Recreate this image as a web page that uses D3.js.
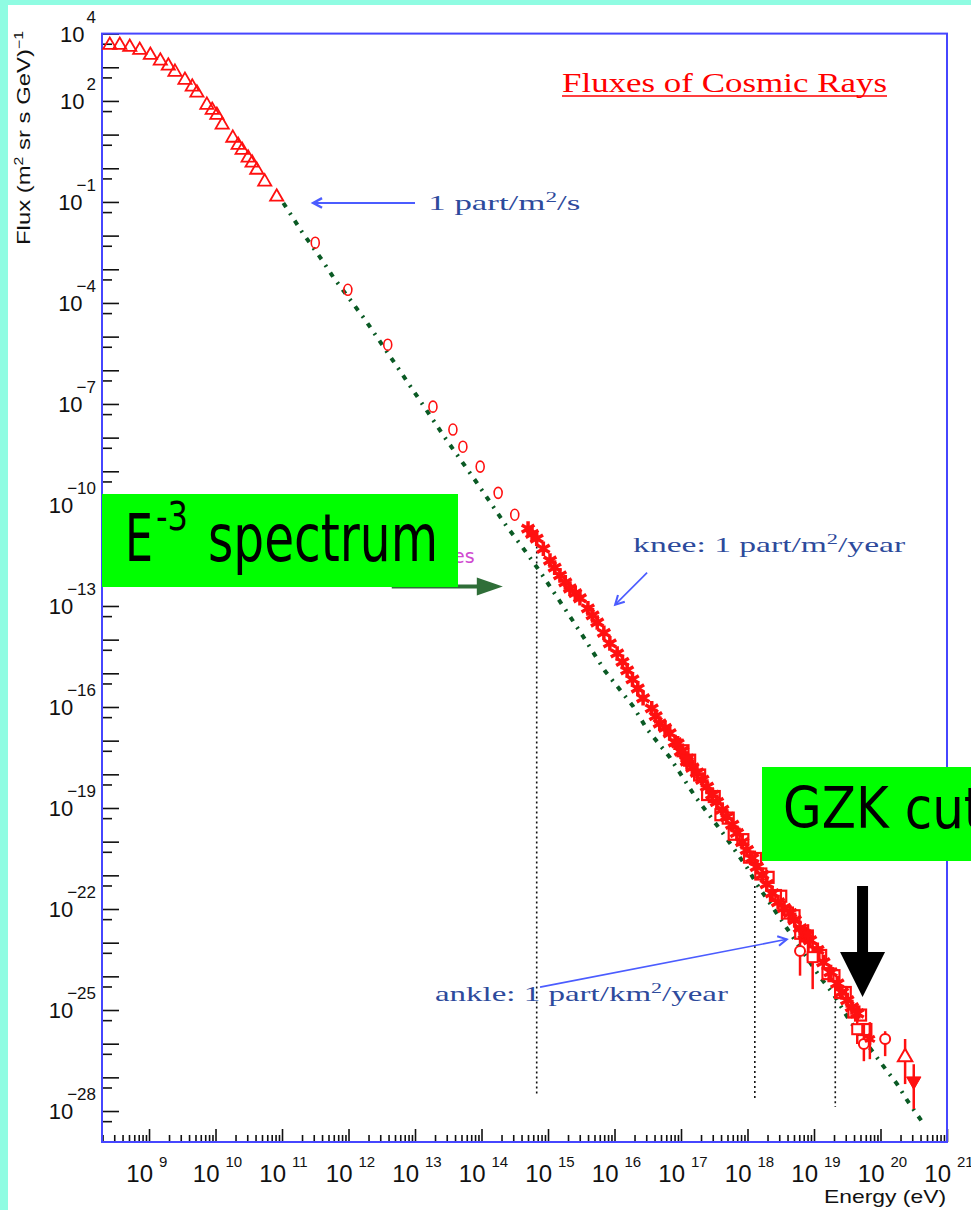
<!DOCTYPE html>
<html><head><meta charset="utf-8">
<script src="https://cdn.jsdelivr.net/npm/d3@7"></script>
<style>
html,body{margin:0;padding:0;background:#8ffce2;overflow:hidden}
svg{display:block}
</style></head><body>
<svg id="c" width="971" height="1210"></svg>
<script>
// ---------- data (log10 of energy in eV, log10 of flux) ----------
const triLogE = [8.41,8.56,8.71,8.86,9.02,9.17,9.29,9.39,9.54,9.65,9.72,9.87,9.95,10.02,10.10,10.26,10.34,10.40,10.49,10.55,10.62,10.74,10.92];
const triLogF = [3.66,3.66,3.60,3.51,3.36,3.19,3.04,2.86,2.62,2.42,2.24,1.88,1.73,1.58,1.29,0.90,0.69,0.54,0.31,0.16,-0.05,-0.40,-0.85];

const circLogE = [11.50,11.99,12.59,13.27,13.57,13.72,13.98,14.25,14.50];
const circLogF = [-2.21,-3.61,-5.24,-7.08,-7.76,-8.27,-8.86,-9.64,-10.29];

const starLogE = [14.70,14.76,14.83,14.93,15.03,15.10,15.18,15.26,15.33,15.41,15.48,15.60,15.67,15.74,15.84,15.93,16.04,16.12,16.19,16.27,16.35,16.43,16.56,16.62,16.68,16.76,16.83,16.95,17.02,17.09];
const starLogF = [-10.70,-10.86,-11.00,-11.30,-11.65,-11.86,-12.09,-12.30,-12.48,-12.62,-12.77,-13.07,-13.28,-13.49,-13.80,-14.11,-14.41,-14.66,-14.91,-15.18,-15.45,-15.74,-16.04,-16.27,-16.49,-16.62,-16.78,-17.08,-17.30,-17.53];

const bandLogE = [16.91,17.00,17.09,17.17,17.24,17.32,17.39,17.47,17.54,17.62,17.69,17.77,17.84,17.92,17.99,18.07,18.14,18.22,18.29,18.37,18.46,18.55,18.64,18.71,18.79,18.86,18.94,19.05,19.14,19.25,19.35,19.42,19.50,19.57,19.65];
const bandLogF = [-17.05,-17.32,-17.62,-17.80,-17.95,-18.16,-18.37,-18.61,-18.82,-19.05,-19.26,-19.50,-19.74,-20.01,-20.25,-20.49,-20.75,-20.99,-21.26,-21.53,-21.80,-21.97,-22.12,-22.33,-22.57,-22.75,-22.93,-23.22,-23.58,-23.88,-24.21,-24.47,-24.71,-24.92,-25.10];
const band2LogE = [17.03,17.13,17.28,17.40,17.50,17.60,17.71,17.80,17.93,18.03,18.12,18.20,18.31,18.42,18.50,18.60,18.70,18.80,18.90,19.00,19.10,19.21,19.30,19.40,19.47,19.60,19.70,19.78];
const band2LogF = [-17.30,-17.58,-18.02,-18.60,-18.66,-19.20,-19.30,-19.78,-19.94,-20.46,-20.50,-20.96,-21.06,-21.60,-21.62,-22.12,-22.20,-22.72,-22.80,-23.30,-23.38,-23.92,-23.98,-24.48,-24.48,-25.06,-25.15,-25.58];

const errLogE   = [18.79,18.91,18.98,19.65,19.75,19.84,20.07,20.37,20.50];
const errLogF   = [-23.25,-22.75,-23.43,-25.57,-26.01,-25.86,-25.86,-26.40,-27.11];
const errLogLo  = [-23.98,-23.55,-24.38,-26.01,-26.52,-26.46,-26.37,-27.20,-27.94];
const errLogHi  = [-22.84,-22.45,-22.81,-25.12,-25.42,-25.36,-25.63,-25.86,-26.61];
const errMarker = ["circle","star","square","square","circle","star","circle","triUp","triDown"];

// E^-3-like reference spectrum (green dash-dot)
const specLogE = [11.02,11.30,11.60,11.77,12.25,12.73,13.27,13.45,13.93,14.38,14.61,14.88,15.06,15.33,15.53,15.86,16.28,16.49,16.83,17.21,17.62,17.99,18.14,18.53,19.09,19.29,19.54,20.04,20.25,20.41,20.62];
const specLogF = [-1.03,-1.89,-2.72,-3.23,-4.50,-5.89,-7.47,-8.00,-9.34,-10.64,-11.24,-11.98,-12.51,-13.31,-13.91,-14.94,-15.98,-16.66,-17.49,-18.65,-19.72,-20.76,-21.26,-22.39,-24.02,-24.52,-25.33,-26.66,-27.20,-27.71,-28.30];

// dotted feature markers (knee, ankle, GZK)
const featLogE   = [14.83,18.11,19.32];
const featTopF   = [-11.23,-21.32,-24.74];
const featBotF   = [-27.50,-27.65,-27.88];

const xTickExp = [9,10,11,12,13,14,15,16,17,18,19,20,21];
const yTickExp = [4,2,-1,-4,-7,-10,-13,-16,-19,-22,-25,-28];

// ---------- drawing ----------
const P = v => Math.pow(10, v);
const svg = d3.select('#c');
svg.append('rect').attr('x',8).attr('y',5).attr('width',963).attr('height',1205).attr('fill','#fff');

const L = 102, R = 947, T = 33.6, B = 1142;
const x = d3.scaleLog().domain([P(8.293), 1e21]).range([L, R]);
const y = d3.scaleLog().domain([1e4, P(-28.92)]).range([T, B]);

// ticks
const xMinor = [], xMajor = [];
for (let n = 8; n <= 21; n++) for (let k = 1; k <= 9; k++) {
  const v = k * P(n);
  if (v < x.domain()[0] || v > x.domain()[1] * 1.0001) continue;
  (k === 1 ? xMajor : xMinor).push(v);
}
const yMinor = [], yMajor = [];
for (let n = -29; n <= 4; n++) {
  const v = P(n);
  if (v <= 1e4 * 1.0001 && v >= y.domain()[1]) yMajor.push(v);
  const m = 5 * P(n - 1);
  if (m <= 1e4 && m >= y.domain()[1]) yMinor.push(m);
}
function styleAxis(g) {
  g.select('.domain').remove();
  g.selectAll('line').attr('stroke', '#111').attr('stroke-width', 1.6);
}
svg.append('g').attr('transform', `translate(0,${B})`)
  .call(d3.axisTop(x).tickValues(xMinor).tickSize(7).tickFormat('')).call(styleAxis);
svg.append('g').attr('transform', `translate(0,${B})`)
  .call(d3.axisTop(x).tickValues(xMajor).tickSize(13).tickFormat('')).call(styleAxis);
svg.append('g').attr('transform', `translate(${L},0)`)
  .call(d3.axisRight(y).tickValues(yMinor).tickSize(10).tickFormat('')).call(styleAxis);
svg.append('g').attr('transform', `translate(${L},0)`)
  .call(d3.axisRight(y).tickValues(yMajor).tickSize(17).tickFormat('')).call(styleAxis);

// frame
svg.append('rect').attr('x', L).attr('y', T).attr('width', R - L).attr('height', B - T)
  .attr('fill', 'none').attr('stroke', '#4646ff').attr('stroke-width', 2);

// tick labels
const lab = svg.append('g').attr('font-family', 'Liberation Sans, Arial, sans-serif').attr('fill', '#111');
xTickExp.forEach(e => {
  const px = x(P(e));
  lab.append('text').attr('x', px + 4).attr('y', 1182).attr('text-anchor', 'end')
    .attr('font-size', 24).text('10');
  lab.append('text').attr('x', px + 10).attr('y', 1167).attr('font-size', 15).text(String(e));
});
yTickExp.forEach(e => {
  const py = y(P(e));
  const sup = lab.append('text').attr('x', 96).attr('y', py - 11).attr('text-anchor', 'end')
    .attr('font-size', 17).text(e < 0 ? '\u2212' + Math.abs(e) : String(e));
  const w = sup.node().getComputedTextLength();
  lab.append('text').attr('x', 96 - w + (e < 0 ? 6 : -2)).attr('y', py + 8).attr('text-anchor', 'end')
    .attr('font-size', 22).text('10');
});

// axis titles
const yt = lab.append('text').attr('transform', 'translate(30,245) rotate(-90)')
  .attr('font-size', 18).attr('textLength', 214).attr('lengthAdjust', 'spacingAndGlyphs');
yt.append('tspan').text('Flux (m');
yt.append('tspan').attr('dy', -7).attr('font-size', 12).text('2');
yt.append('tspan').attr('dy', 7).text(' sr s GeV)');
yt.append('tspan').attr('dy', -7).attr('font-size', 12).text('\u22121');
lab.append('text').attr('x', 824).attr('y', 1203)
  .attr('font-size', 19).attr('textLength', 122).attr('lengthAdjust', 'spacingAndGlyphs').text('Energy (eV)');

// title
svg.append('text').attr('x', 562).attr('y', 92).attr('font-family', 'Liberation Serif, serif')
  .attr('font-size', 27).attr('fill', '#ff0000').attr('textLength', 325)
  .attr('lengthAdjust', 'spacingAndGlyphs').text('Fluxes of Cosmic Rays');
svg.append('line').attr('x1', 562).attr('x2', 887).attr('y1', 96).attr('y2', 96)
  .attr('stroke', '#ff0000').attr('stroke-width', 1.6);

// dotted feature lines
const feat = featLogE.map((e, i) => ({e, t: featTopF[i], b: featBotF[i]}));
svg.append('g').selectAll('line').data(feat).join('line')
  .attr('x1', d => x(P(d.e))).attr('x2', d => x(P(d.e)))
  .attr('y1', d => y(P(d.t))).attr('y2', d => y(P(d.b)))
  .attr('stroke', '#111').attr('stroke-width', 1.6).attr('stroke-dasharray', '2,3');

// green spectrum line
const spec = specLogE.map((e, i) => [x(P(e)), y(P(specLogF[i]))]);
svg.append('path').attr('d', d3.line()(spec)).attr('fill', 'none')
  .attr('stroke', '#0a5a24').attr('stroke-width', 4).attr('stroke-dasharray', '5 7 2 7');

const red = '#ff1010';
const dg = svg.append('g');
// triangles
const tri = triLogE.map((e, i) => [x(P(e)), y(P(triLogF[i]))]);
dg.selectAll('.tri').data(tri).join('path')
  .attr('transform', d => `translate(${d[0]},${d[1]})`)
  .attr('d', d3.symbol().type(d3.symbolTriangle).size(75))
  .attr('fill', 'none').attr('stroke', red).attr('stroke-width', 1.8);
// circles
const circ = circLogE.map((e, i) => [x(P(e)), y(P(circLogF[i]))]);
dg.selectAll('.circ').data(circ).join('ellipse')
  .attr('cx', d => d[0]).attr('cy', d => d[1]).attr('rx', 4).attr('ry', 5.5)
  .attr('fill', 'none').attr('stroke', red).attr('stroke-width', 1.6);
// band (open squares + asterisks)
const band2 = band2LogE.map((e, i) => [x(P(e)), y(P(band2LogF[i]))]);
dg.selectAll('.b2').data(band2).join('rect')
  .attr('x', d => d[0] - 5.5).attr('y', d => d[1] - 5.5).attr('width', 11).attr('height', 11)
  .attr('fill', 'none').attr('stroke', red).attr('stroke-width', 2.2);
const band = bandLogE.map((e, i) => [x(P(e)), y(P(bandLogF[i]))]);
dg.selectAll('.b1').data(band).join('path')
  .attr('transform', d => `translate(${d[0]},${d[1]})`)
  .attr('d', d3.symbol().type(d3.symbolAsterisk).size(160))
  .attr('fill', 'none').attr('stroke', red).attr('stroke-width', 3.5);
// stars
const stars = starLogE.map((e, i) => [x(P(e)), y(P(starLogF[i]))]);
dg.selectAll('.st').data(stars).join('path')
  .attr('transform', d => `translate(${d[0]},${d[1]})`)
  .attr('d', d3.symbol().type(d3.symbolAsterisk).size(150))
  .attr('fill', 'none').attr('stroke', red).attr('stroke-width', 3.5);
// error-bar points
const errs = errLogE.map((e, i) => ({x: x(P(e)), y: y(P(errLogF[i])), lo: y(P(errLogLo[i])), hi: y(P(errLogHi[i])), m: errMarker[i]}));
dg.selectAll('.eb').data(errs).join('line')
  .attr('x1', d => d.x).attr('x2', d => d.x).attr('y1', d => d.lo).attr('y2', d => d.hi)
  .attr('stroke', red).attr('stroke-width', 2.5);
errs.forEach(d => {
  let s;
  if (d.m === 'circle') {
    dg.append('ellipse').attr('cx', d.x).attr('cy', d.y).attr('rx', 5).attr('ry', 5)
      .attr('fill', '#fff').attr('stroke', red).attr('stroke-width', 2);
    return;
  }
  if (d.m === 'square') {
    dg.append('rect').attr('x', d.x - 5).attr('y', d.y - 5).attr('width', 10).attr('height', 10)
      .attr('fill', '#fff').attr('stroke', red).attr('stroke-width', 2);
    return;
  }
  const type = d.m === 'star' ? d3.symbolAsterisk : d3.symbolTriangle;
  s = dg.append('path').attr('transform', `translate(${d.x},${d.y})` + (d.m === 'triDown' ? ' rotate(180)' : ''))
    .attr('d', d3.symbol().type(type).size(90));
  if (d.m === 'star') s.attr('fill', 'none').attr('stroke', red).attr('stroke-width', 3);
  else if (d.m === 'triUp') s.attr('fill', '#fff').attr('stroke', red).attr('stroke-width', 2);
  else s.attr('fill', red).attr('stroke', red).attr('stroke-width', 1);
});

// blue annotations
const blueLine = '#4b5cff', blueText = '#2d4a9c';
function arrow(x1, y1, x2, y2, color, w, head) {
  const a = Math.atan2(y2 - y1, x2 - x1);
  svg.append('line').attr('x1', x1).attr('y1', y1).attr('x2', x2).attr('y2', y2)
    .attr('stroke', color).attr('stroke-width', w);
  const p1 = [x2 - head * Math.cos(a - 0.5), y2 - head * Math.sin(a - 0.5)];
  const p2 = [x2 - head * Math.cos(a + 0.5), y2 - head * Math.sin(a + 0.5)];
  svg.append('path').attr('d', `M${p1}L${x2},${y2}L${p2}`).attr('fill', 'none')
    .attr('stroke', color).attr('stroke-width', w + 0.5);
}
arrow(x(P(13.0)), y(P(-1.03)), x(P(11.47)), y(P(-1.03)), blueLine, 2, 10);
arrow(x(P(16.49)), y(P(-12.01)), x(P(16.01)), y(P(-12.96)), blueLine, 1.6, 10);
arrow(x(P(14.88)), y(P(-24.32)), x(P(18.59)), y(P(-22.90)), blueLine, 1.6, 10);

function annot(e, f, parts, len) {
  const t = svg.append('text').attr('x', x(P(e))).attr('y', y(P(f)))
    .attr('font-family', 'Liberation Serif, DejaVu Serif, serif').attr('font-size', 21)
    .attr('fill', blueText).attr('textLength', len).attr('lengthAdjust', 'spacingAndGlyphs');
  parts.forEach(p => {
    const ts = t.append('tspan').text(p[0]);
    if (p[1]) ts.attr('dy', p[1]);
    if (p[2]) ts.attr('font-size', p[2]);
  });
}
annot(13.20, -1.23, [['1 part/m'], ['2', -8, 14], ['/s', 8]], 152);
annot(16.28, -11.41, [['knee: 1 part/m'], ['2', -8, 14], ['/year', 8]], 272);
annot(13.30, -24.74, [['ankle: 1 part/km'], ['2', -8, 14], ['/year', 8]], 293);

// hidden magenta label fragment
svg.append('text').attr('x', 453).attr('y', 563).attr('font-family', 'DejaVu Sans, sans-serif')
  .attr('font-size', 19).attr('fill', '#d04ad0').text('es');

// dark green arrow
const gx1 = x(P(12.65)), gx2 = x(P(14.32)), gy = y(P(-12.42));
svg.append('line').attr('x1', gx1).attr('x2', gx2 - 22).attr('y1', gy).attr('y2', gy)
  .attr('stroke', '#2f6e38').attr('stroke-width', 4);
svg.append('path').attr('d', `M${gx2 - 26},${gy - 9}L${gx2},${gy}L${gx2 - 26},${gy + 9}Z`).attr('fill', '#2f6e38');

// green boxes
svg.append('rect').attr('x', 102).attr('y', 494).attr('width', 356).attr('height', 93).attr('fill', '#00ff00');
const eg = svg.append('g').attr('transform', 'translate(125,561) scale(1,1.3)')
  .attr('font-family', 'DejaVu Sans, sans-serif').attr('fill', '#000');
eg.append('text').attr('x', 0).attr('y', 0).attr('font-size', 50).attr('textLength', 28)
  .attr('lengthAdjust', 'spacingAndGlyphs').text('E');
eg.append('text').attr('x', 31).attr('y', -24).attr('font-size', 30).attr('textLength', 32)
  .attr('lengthAdjust', 'spacingAndGlyphs').text('-3');
eg.append('text').attr('x', 83).attr('y', 0).attr('font-size', 50).attr('textLength', 230)
  .attr('lengthAdjust', 'spacingAndGlyphs').text('spectrum');

svg.append('rect').attr('x', 762).attr('y', 767).attr('width', 230).attr('height', 94).attr('fill', '#00ff00');
svg.append('g').attr('transform', 'translate(783,828) scale(1,1.15)')
  .append('text').attr('font-family', 'DejaVu Sans, sans-serif').attr('font-size', 50)
  .attr('fill', '#000').text('GZK cutoff');

// black arrow
const bx = x(P(19.73)), byTop = y(P(-21.32)), byBase = y(P(-23.28)), byTip = y(P(-24.61));
svg.append('path').attr('d',
  `M${bx - 5.5},${byTop}L${bx + 5.5},${byTop}L${bx + 5.5},${byBase}L${bx + 22.5},${byBase}L${bx},${byTip}L${bx - 22.5},${byBase}L${bx - 5.5},${byBase}Z`)
  .attr('fill', '#000');
</script>
</body></html>
